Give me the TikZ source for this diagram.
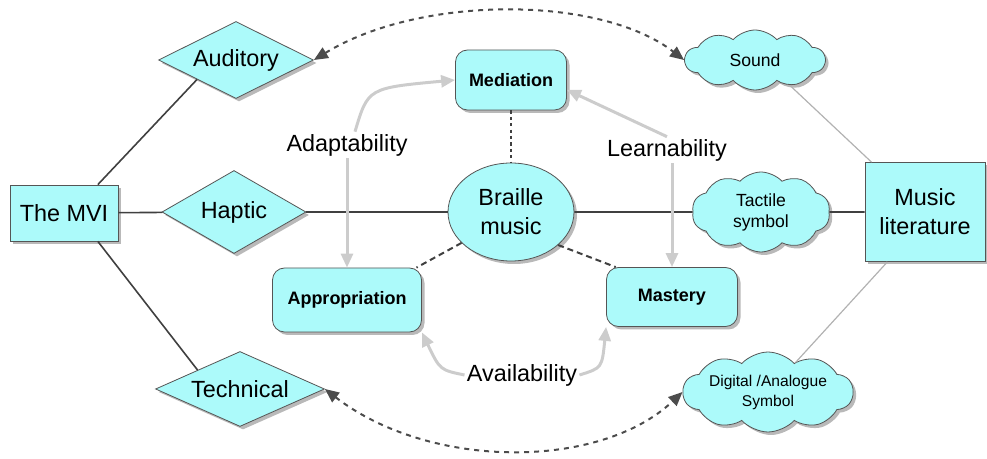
\documentclass[tikz,border=0pt]{standalone}
\usepackage{fontspec}
\setmainfont{Liberation Sans}
\usetikzlibrary{shapes.geometric,shapes.symbols,shadows,arrows.meta}
\definecolor{mvicyan}{RGB}{172,250,250}
\definecolor{edgegray}{RGB}{85,85,85}
\begin{document}
\begin{tikzpicture}[x=0.5pt, y=-0.5pt,
            shade/.style={drop shadow={shadow xshift=1.5pt, shadow yshift=-1.5pt, fill=black!55}},
            block/.style={rectangle, draw=edgegray, fill=mvicyan, shade, align=center, inner sep=1pt, font=\fontsize{11.7}{14.5}\selectfont},
            sense/.style={diamond, aspect=2, draw=edgegray, fill=mvicyan, shade, inner sep=0pt, font=\fontsize{11.7}{14}\selectfont},
            phase/.style={rectangle, rounded corners=6pt, draw=edgegray, fill=mvicyan, shade, font=\bfseries\fontsize{9}{11}\selectfont},
            symb/.style={cloud, cloud puffs=10, cloud puff arc=95, cloud ignores aspect, draw=edgegray, fill=mvicyan, shade, align=center, inner sep=0pt, font=\fontsize{8.8}{10.5}\selectfont},
            quality/.style={inner sep=1pt, font=\fontsize{11.7}{14}\selectfont},
            link/.style={draw=black!75, line width=0.8pt},
            thinlink/.style={draw=black!30, line width=0.6pt},
            dotlink/.style={draw=black!75, line width=1pt, dash pattern=on 1.6pt off 1.6pt},
            dashlink/.style={draw=black!75, line width=1pt, dash pattern=on 3pt off 2pt},
            grayarrow/.style={draw=black!20, line width=1.5pt, -{Triangle[length=7pt,width=6pt]}},
            farlink/.style={draw=black!70, line width=1pt, dash pattern=on 2.5pt off 2.5pt,
                {Triangle[length=7pt,width=6pt]}-{Triangle[length=7pt,width=6pt]}}
        ]
            \useasboundingbox (0,0) rectangle (987,459);

            % left side
            \node[block, minimum width=54pt, minimum height=28pt] (mvi) at (64, 213) {The MVI};
            \node[sense, minimum width=77.5pt, minimum height=38.5pt] (aud) at (236, 60) {Auditory};
            \node[sense, minimum width=72pt, minimum height=41.5pt] (hap) at (234, 212) {Haptic};
            \node[sense, minimum width=84.5pt, minimum height=37.5pt] (tech) at (240, 389) {Technical};

            % centre
            \node[phase, minimum width=55.5pt, minimum height=30pt] (med) at (511, 80) {Mediation};
            \node[ellipse, draw=edgegray, fill=mvicyan, shade, align=center, inner sep=0pt,
                  minimum width=63pt, minimum height=49pt, font=\fontsize{11.7}{14.5}\selectfont]
                  (braille) at (511, 212) {Braille\\music};
            \node[phase, minimum width=74.5pt, minimum height=32pt] (appr) at (347, 300) {Appropriation};
            \node[phase, minimum width=65.5pt, minimum height=29.5pt] (mast) at (672, 297) {Mastery};

            \node[quality] (adapt) at (347, 145) {Adaptability};
            \node[quality] (learn) at (667, 150) {Learnability};
            \node[quality] (avail) at (522, 375) {Availability};

            % right side
            \node[symb, minimum width=70pt, minimum height=30pt] (sound) at (755, 60) {Sound};
            \node[symb, minimum width=69pt, minimum height=40pt] (tact) at (761, 212) {Tactile\\symbol};
            \node[symb, minimum width=85pt, minimum height=40pt, font=\fontsize{7.8}{10}\selectfont]
                  (dig) at (768, 392) {Digital /Analogue\\Symbol};
            \node[block, minimum width=60pt, minimum height=49.5pt] (lit) at (925, 212) {Music\\literature};

            \draw[link] (mvi.40) -- (aud.south west);
            \draw[link] (mvi.-40) -- (tech.north west);
            \draw[link] (mvi) -- (hap);
            \draw[link] (hap) -- (braille);
            \draw[link] (braille) -- (tact);
            \draw[link] (tact) -- (lit);
            \draw[thinlink] (sound.-36) -- (lit.137);
            \draw[thinlink] (lit.-127) -- (dig.47);

            \draw[dotlink] (med) -- (braille);
            \draw[dashlink] (braille.212) -- (appr.25);
            \draw[dashlink] (braille.-35) -- (mast.152);

            \draw[grayarrow] ([xshift=4pt]adapt.north) .. controls (368, 88) .. (med.west);
            \draw[grayarrow] (adapt) -- (appr);
            \draw[grayarrow] (learn.north) -- (med.-10);
            \draw[grayarrow] (learn.south -| mast.north) -- (mast.north);
            \draw[grayarrow] (avail.west) .. controls (440, 370) .. (appr.south east);
            \draw[grayarrow] (avail.east) .. controls (602, 368) .. (mast.south west);

            \draw[farlink] (aud.east) .. controls (420, -5) and (600, -5) .. (sound.west);
            \draw[farlink] (tech.east) .. controls (430, 470) and (600, 470) .. (dig.west);
        \end{tikzpicture}
\end{document}
